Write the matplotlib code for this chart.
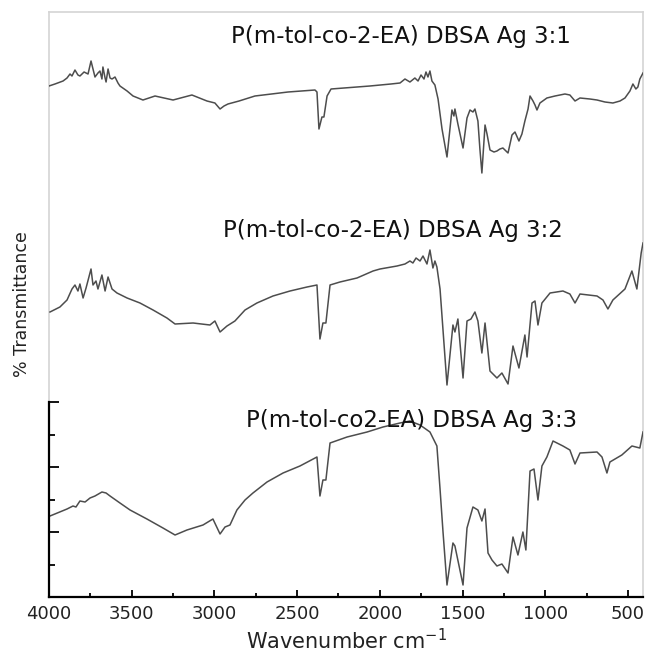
import numpy as np
import matplotlib
matplotlib.use("Agg")
from matplotlib import pyplot as plt
from matplotlib.ticker import MultipleLocator

# FTIR spectra, wavenumber (cm-1) vs transmittance (arbitrary units, already stacked)
wn_31 = [4000, 3964, 3915, 3891, 3873, 3861, 3843, 3825, 3813, 3788, 3764, 3746, 3734, 3722,
         3704, 3692, 3680, 3674, 3661, 3655, 3643, 3631, 3619, 3601, 3583, 3571, 3528, 3492,
         3432, 3359, 3250, 3136, 3045, 2997, 2966, 2942, 2918, 2851, 2755, 2555, 2392, 2380,
         2368, 2350, 2338, 2319, 2295, 2060, 1933, 1878, 1848, 1818, 1788, 1769, 1751, 1733,
         1721, 1709, 1697, 1685, 1667, 1648, 1624, 1594, 1564, 1552, 1546, 1528, 1497, 1473,
         1455, 1437, 1425, 1407, 1395, 1383, 1364, 1352, 1334, 1310, 1292, 1274, 1256, 1225,
         1201, 1183, 1159, 1141, 1123, 1104, 1092, 1074, 1062, 1050, 1032, 990, 941, 881,
         851, 820, 790, 730, 687, 639, 591, 548, 518, 488, 470, 452, 440, 428, 409]
t_31 = [511, 513, 516, 519, 523, 521, 527, 522, 521, 525, 523, 536, 528, 520,
        524, 526, 518, 530, 519, 515, 528, 519, 518, 520, 514, 511, 506, 501,
        497, 501, 497, 502, 496, 494, 488, 491, 493, 496, 501, 505, 507, 505,
        468, 480, 480, 501, 508, 511, 513, 514, 518, 515, 519, 516, 522, 518,
        525, 520, 526, 516, 512, 498, 468, 440, 487, 481, 488, 473, 449, 479,
        487, 485, 488, 476, 448, 424, 472, 463, 447, 445, 446, 448, 449, 444,
        462, 465, 456, 463, 476, 488, 501, 496, 492, 487, 494, 499, 501, 503,
        502, 496, 499, 498, 497, 495, 494, 496, 499, 506, 513, 508, 510, 518, 524]

wn_32 = [3994, 3934, 3891, 3861, 3843, 3825, 3813, 3794, 3776, 3746, 3734, 3716, 3704, 3680,
         3661, 3643, 3619, 3589, 3528, 3450, 3371, 3287, 3238, 3129, 3027, 2997, 2966, 2924,
         2876, 2815, 2743, 2646, 2543, 2440, 2380, 2362, 2344, 2326, 2301, 2241, 2138, 2041,
         1999, 1896, 1848, 1818, 1800, 1781, 1757, 1739, 1715, 1697, 1679, 1667, 1655, 1636,
         1594, 1558, 1546, 1528, 1497, 1473, 1449, 1425, 1407, 1383, 1364, 1334, 1292, 1262,
         1225, 1195, 1159, 1123, 1110, 1080, 1062, 1044, 1020, 971, 893, 851, 820, 790,
         687, 651, 621, 591, 518, 476, 446, 420, 409]
t_32 = [285, 290, 297, 308, 312, 306, 313, 299, 309, 328, 312, 316, 308, 322,
        306, 320, 308, 304, 299, 294, 287, 279, 273, 274, 272, 276, 265, 271,
        276, 287, 294, 301, 306, 310, 312, 258, 274, 274, 312, 315, 319, 326,
        328, 331, 333, 336, 334, 339, 336, 341, 333, 347, 329, 336, 330, 308,
        212, 272, 265, 278, 219, 276, 278, 285, 276, 244, 274, 226, 219, 224,
        213, 251, 229, 262, 240, 294, 296, 272, 294, 304, 306, 303, 294, 303,
        301, 297, 288, 297, 308, 326, 308, 344, 354]

wn_33 = [3994, 3891, 3855, 3837, 3813, 3782, 3752, 3722, 3680, 3655, 3631, 3571, 3510, 3408,
         3311, 3238, 3166, 3069, 3009, 2966, 2936, 2906, 2864, 2815, 2767, 2682, 2585, 2483,
         2380, 2362, 2344, 2326, 2301, 2198, 2077, 1981, 1878, 1818, 1757, 1697, 1655, 1636,
         1618, 1594, 1558, 1546, 1497, 1473, 1437, 1407, 1383, 1364, 1346, 1322, 1292, 1262,
         1225, 1195, 1165, 1135, 1117, 1092, 1068, 1044, 1020, 990, 953, 893, 851, 820,
         790, 687, 657, 627, 609, 537, 476, 428, 409]
t_33 = [81, 88, 91, 90, 96, 95, 99, 101, 105, 104, 101, 94, 87, 78,
        69, 62, 67, 72, 78, 63, 70, 72, 87, 97, 104, 115, 124, 131,
        140, 101, 117, 117, 154, 160, 165, 170, 174, 176, 172, 165, 151, 108,
        65, 12, 54, 51, 12, 69, 90, 87, 76, 88, 44, 37, 31, 33,
        24, 60, 42, 65, 47, 126, 128, 97, 131, 140, 156, 151, 147, 133,
        144, 145, 140, 124, 135, 142, 151, 149, 165]

labels = ["P(m-tol-co-2-EA) DBSA Ag 3:1",
          "P(m-tol-co-2-EA) DBSA Ag 3:2",
          "P(m-tol-co2-EA) DBSA Ag 3:3"]
label_pos = [(1872, 561), (1920, 367), (1806, 176)]

fig = plt.figure(figsize=(6.45, 6.56), dpi=100)
rect = [49 / 645, 59 / 656, 594 / 645, 585 / 656]

# light grey frame around the stacked panel
frame = fig.add_axes(rect)
frame.set_xticks([])
frame.set_yticks([])
for side in ["top", "right", "left"]:
    frame.spines[side].set_color("#d4d4d4")
    frame.spines[side].set_linewidth(1.2)
frame.spines["bottom"].set_visible(False)

ax = fig.add_axes(rect)
ax.patch.set_alpha(0)
for wn, t in [(wn_31, t_31), (wn_32, t_32), (wn_33, t_33)]:
    ax.plot(wn, t, color="#4d4d4d", lw=1.1)

for lab, (x, y) in zip(labels, label_pos):
    ax.text(x, y, lab, ha="center", va="center", fontsize=16.5, color="#111111")

ax.set_xlim(4000, 409)
ax.set_ylim(0, 585)
ax.spines["top"].set_visible(False)
ax.spines["right"].set_visible(False)
ax.spines["left"].set_bounds(0, 195)
ax.spines["left"].set_linewidth(1.6)
ax.spines["bottom"].set_linewidth(1.6)

ax.xaxis.set_major_locator(MultipleLocator(500))
ax.xaxis.set_minor_locator(MultipleLocator(250))
ax.set_yticks([0, 65, 130, 195])
ax.set_yticks([32.5, 97.5, 162.5], minor=True)
ax.set_yticklabels([])
ax.tick_params(axis="x", which="major", direction="in", length=5, width=1.3,
               labelsize=13, pad=6, labelcolor="#222222")
ax.tick_params(axis="x", which="minor", direction="in", length=3, width=1.3)
ax.tick_params(axis="y", which="major", direction="in", length=7, width=1.3)
ax.tick_params(axis="y", which="minor", direction="in", length=4, width=1.3)

ax.set_xlabel("Wavenumber cm$^{-1}$", fontsize=15, labelpad=3, color="#222222")
ax.set_ylabel("% Transmittance", fontsize=12.5, color="#222222")
ax.yaxis.set_label_coords(-0.03, 0.5)

fig.savefig("out.png", dpi=100)
